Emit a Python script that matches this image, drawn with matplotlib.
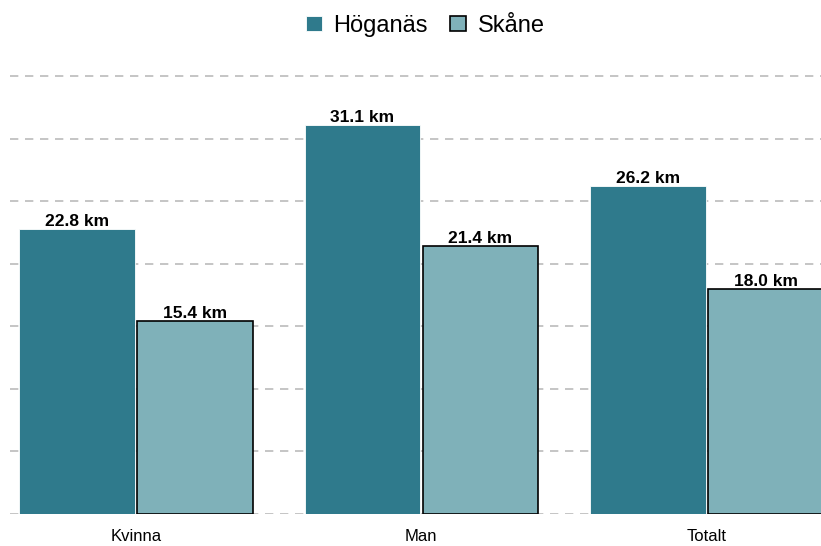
import numpy as np
import matplotlib.pyplot as plt

categories = ['Kvinna', 'Man', 'Totalt']
hoganas = [22.8, 31.1, 26.2]
skane = [15.4, 21.4, 18.0]
series_names = ['Höganäs', 'Skåne']

plt.rcParams['font.family'] = ['Liberation Sans', 'DejaVu Sans']

fig = plt.figure(figsize=(8.21, 5.46), dpi=100)
ax = fig.add_axes([0.0122, 0.0586, 0.9878, 0.8314])

x = np.arange(len(categories))
w = 0.405
gap = 0.004
b1 = ax.bar(x - w / 2 - gap, hoganas, w, color='#2f7a8c', edgecolor='white', linewidth=0.6,
            label=series_names[0], zorder=3)
b2 = ax.bar(x + w / 2 + gap, skane, w, color='#7fb1b9', edgecolor='black', linewidth=1.2,
            label=series_names[1], zorder=3)

for bars in (b1, b2):
    for rect in bars:
        h = rect.get_height()
        ax.text(rect.get_x() + rect.get_width() / 2, h, f'{h:.1f} km',
                ha='center', va='bottom', fontsize=12.5, fontweight='bold', zorder=4)

ax.set_xlim(-0.441, 2.4)
ax.set_ylim(0, 36.3)
ax.set_yticks(np.arange(0, 36, 5))
ax.set_yticklabels([])
ax.set_xticks(x)
ax.set_xticklabels(categories, fontsize=12)
ax.tick_params(axis='both', length=0)
ax.tick_params(axis='x', pad=11)
ax.grid(axis='y', linestyle=(0, (5, 4)), color='#bbbbbb', linewidth=1.2, zorder=0)
for s in ax.spines.values():
    s.set_visible(False)

fig.legend(loc='upper center', bbox_to_anchor=(0.518, 1.012), ncol=2, frameon=False,
           fontsize=17, handlelength=0.65, handleheight=0.65, columnspacing=0.95,
           handletextpad=0.5)

fig.savefig('out.png', dpi=100)
